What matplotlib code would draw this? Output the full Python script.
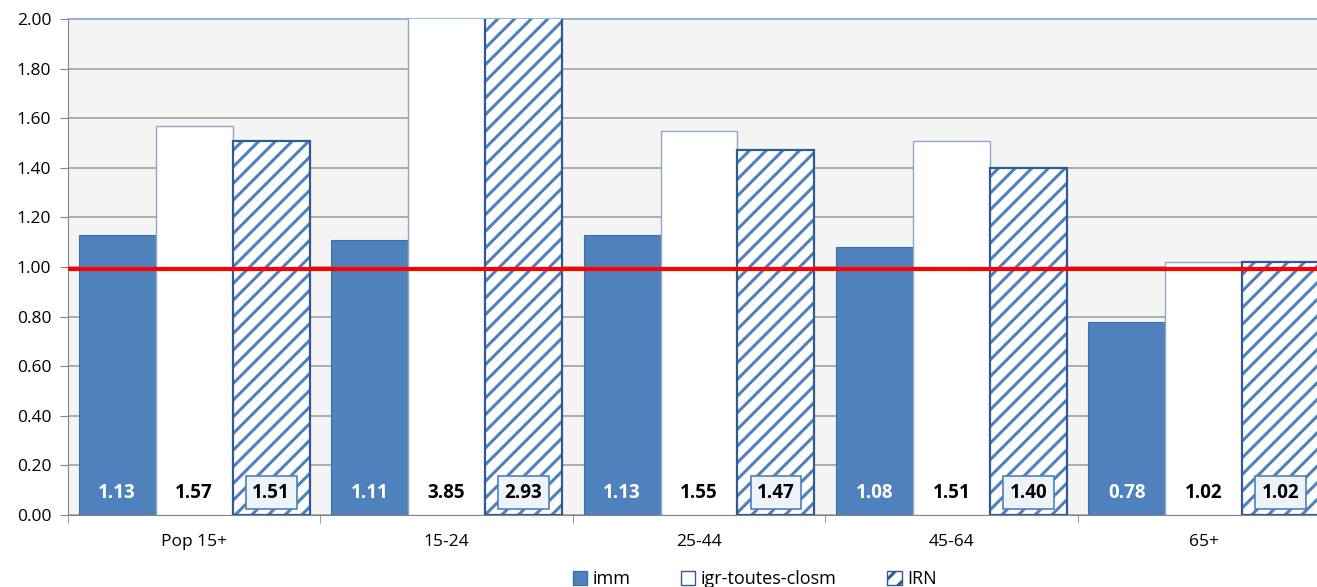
import numpy as np
import matplotlib.pyplot as plt
from matplotlib.patches import Patch

categories = ['Pop 15+', '15-24', '25-44', '45-64', '65+']
imm = [1.13, 1.11, 1.13, 1.08, 0.78]
igr = [1.57, 3.85, 1.55, 1.51, 1.02]
irn = [1.51, 2.93, 1.47, 1.40, 1.02]
ref_level = 0.99

blue = '#4f81bd'
dark = '#2f5b94'

plt.rcParams['font.family'] = ['Open Sans', 'DejaVu Sans']
plt.rcParams['hatch.linewidth'] = 2.2

fig = plt.figure(figsize=(13.17, 5.87), dpi=100)
ax = fig.add_axes([68 / 1317, 72 / 587, 1262 / 1317, 496 / 587])
ax.set_facecolor('#f4f4f4')

x = np.arange(len(categories))
w = 0.305

ax.bar(x - w, imm, w, color=blue, edgecolor='#3f6fa8', linewidth=0.8, zorder=3)
ax.bar(x, igr, w, color='white', edgecolor='#8ea6c8', linewidth=1.0, zorder=3)
ax.bar(x + w, irn, w, color='white', edgecolor=blue, hatch='//', linewidth=0, zorder=3)
ax.bar(x + w, irn, w, fill=False, edgecolor=dark, linewidth=1.6, zorder=4)

ax.axhline(ref_level, color='#ff0000', linewidth=3, zorder=5)

for i in range(len(categories)):
    ax.text(x[i] - w, 0.09, f'{imm[i]:.2f}', ha='center', va='center', color='white',
            fontsize=13.5, fontweight='bold', zorder=6)
    ax.text(x[i], 0.09, f'{igr[i]:.2f}', ha='center', va='center', color='black',
            fontsize=13.5, fontweight='bold', zorder=6)
    ax.text(x[i] + w, 0.09, f'{irn[i]:.2f}', ha='center', va='center', color='black',
            fontsize=13.5, fontweight='bold', zorder=6,
            bbox=dict(boxstyle='square,pad=0.35', facecolor='#eef3fa', edgecolor=blue, linewidth=1.2))

ax.set_xlim(-0.5, len(categories) - 0.5)
ax.set_ylim(0, 2.0)
ax.set_yticks(np.arange(0, 2.01, 0.2))
ax.set_yticklabels([f'{v:.2f}' for v in np.arange(0, 2.01, 0.2)], fontsize=12.5)
ax.set_xticks(x)
ax.set_xticklabels(categories, fontsize=12.5)
ax.set_xticks(np.arange(-0.5, len(categories), 1), minor=True)
ax.tick_params(axis='x', which='major', length=0, pad=14)
ax.tick_params(axis='x', which='minor', length=6, color='#868686')
ax.tick_params(axis='y', length=6, color='#868686', pad=6)
ax.grid(axis='y', color='#a0a0a0', linewidth=1.2, zorder=0)
ax.set_axisbelow(True)
for s in ['left', 'bottom']:
    ax.spines[s].set_color('#868686')
ax.spines['top'].set_color('#9bb3d6')
ax.spines['top'].set_linewidth(1.5)
ax.spines['top'].set_zorder(2)
ax.spines['right'].set_visible(False)

handles = [Patch(facecolor=blue, edgecolor='#3f6fa8'),
           Patch(facecolor='white', edgecolor=dark),
           Patch(facecolor='white', edgecolor=dark, hatch='//')]
fig.legend(handles, ['imm', 'igr-toutes-closm', 'IRN'], ncol=3, loc='center',
           bbox_to_anchor=(0.573, 0.013), frameon=False, fontsize=13,
           handlelength=0.8, handleheight=0.8, handletextpad=0.3, columnspacing=2.8)

fig.savefig('out.png', dpi=100)
